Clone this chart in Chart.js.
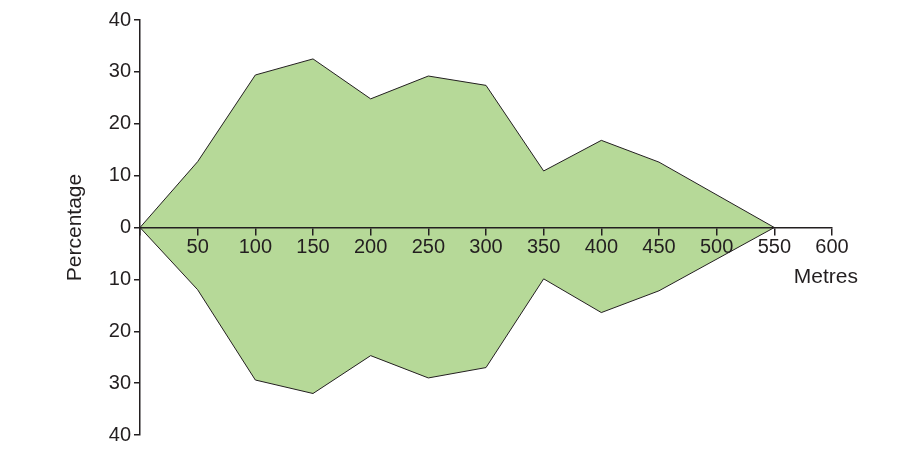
<!DOCTYPE html>
<html>
<head>
<meta charset="utf-8">
<script src="https://cdn.jsdelivr.net/npm/chart.js@4/dist/chart.umd.min.js"></script>
<style>
  html, body { margin: 0; padding: 0; background: #fff; }
  #wrap { width: 913px; height: 457px; position: relative; }
</style>
</head>
<body>
<div id="wrap"><canvas id="kite"></canvas></div>
<script>
// distance along the transect (m) and percentage cover, upper / lower edge of the kite
var metres = [0, 50, 100, 150, 200, 250, 300, 350, 400, 450, 550];
var upperEdge = [0, 12.7, 29.4, 32.5, 24.8, 29.2, 27.4, 10.9, 16.8, 12.6, 0];
var lowerEdge = [0, -12, -29.4, -32, -24.7, -29, -27, -9.9, -16.4, -12.2, 0];
var xTicks = [0, 50, 100, 150, 200, 250, 300, 350, 400, 450, 500, 550, 600];
var yTicks = [-40, -30, -20, -10, 0, 10, 20, 30, 40];

var green = '#b6d998';
var ink = '#231f20';
var family = 'Liberation Sans, Arial, sans-serif';
var tickFont = { family: family, size: 20 };
var titleFont = { family: family, size: 21 };

function toPoints(vals) {
    return metres.map(function (m, i) { return { x: m, y: vals[i] }; });
}

// "Metres" sits to the right, under the end of the x axis
var metresLabel = {
    id: 'metresLabel',
    afterDraw: function (chart) {
        var ctx = chart.ctx;
        var x = chart.scales.x.getPixelForValue(600) + 26;
        var y = chart.scales.y.getPixelForValue(0) + 50;
        ctx.save();
        ctx.font = '21px ' + family;
        ctx.fillStyle = ink;
        ctx.textAlign = 'right';
        ctx.textBaseline = 'middle';
        ctx.fillText('Metres', x, y);
        ctx.restore();
    }
};

var myChart = new Chart(document.getElementById('kite'), {
    type: 'line',
    data: {
        datasets: [
            {
                label: 'upper',
                data: toPoints(upperEdge),
                borderColor: ink,
                backgroundColor: green,
                borderWidth: 1,
                pointRadius: 0,
                fill: 'origin',
                tension: 0
            },
            {
                label: 'lower',
                data: toPoints(lowerEdge),
                borderColor: ink,
                backgroundColor: green,
                borderWidth: 1,
                pointRadius: 0,
                fill: 'origin',
                tension: 0
            }
        ]
    },
    options: {
        responsive: true,
        maintainAspectRatio: false,
        animation: false,
        layout: { padding: { left: 0, right: 81, top: 20, bottom: 22 } },
        plugins: {
            legend: { display: false },
            tooltip: { enabled: false }
        },
        scales: {
            x: {
                type: 'linear',
                position: { y: 0 },
                min: 0,
                max: 600,
                afterFit: function (scale) { scale.height = 0; },
                afterBuildTicks: function (scale) {
                    scale.ticks = xTicks.map(function (v) { return { value: v }; });
                },
                ticks: {
                    z: 1,
                    font: tickFont,
                    color: ink,
                    padding: 1,
                    maxRotation: 0,
                    autoSkip: false,
                    callback: function (v) { return v === 0 ? '' : v; }
                },
                grid: { z: 1, drawOnChartArea: false, drawTicks: true, tickLength: 7, color: ink, lineWidth: 1.5 },
                border: { z: 1, display: true, color: ink, width: 1.5 }
            },
            y: {
                type: 'linear',
                position: 'left',
                min: -40,
                max: 40,
                afterFit: function (scale) { scale.width = 140; },
                afterBuildTicks: function (scale) {
                    scale.ticks = yTicks.map(function (v) { return { value: v }; });
                },
                ticks: {
                    z: 1,
                    font: tickFont,
                    color: ink,
                    padding: 3,
                    callback: function (v) { return Math.abs(v); }
                },
                title: {
                    display: true,
                    text: 'Percentage',
                    font: titleFont,
                    color: ink,
                    padding: { top: 63, bottom: 0 }
                },
                grid: { z: 1, drawOnChartArea: false, drawTicks: true, tickLength: 6, color: ink, lineWidth: 1.5 },
                border: { z: 1, display: true, color: ink, width: 1.5 }
            }
        }
    },
    plugins: [metresLabel]
});
</script>
</body>
</html>
